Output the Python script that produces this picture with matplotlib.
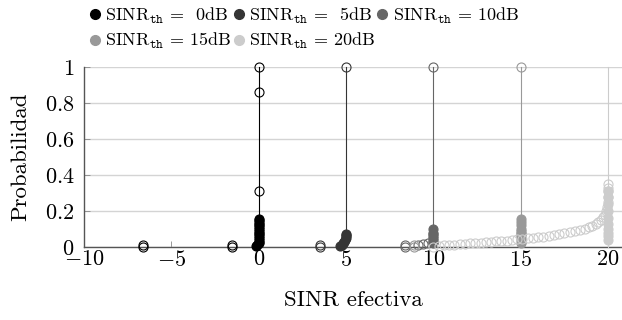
import matplotlib
matplotlib.use('Agg')
import matplotlib.pyplot as plt
from matplotlib.lines import Line2D

plt.rcParams['font.family'] = 'serif'
plt.rcParams['font.serif'] = ['cmr10', 'DejaVu Serif']
plt.rcParams['mathtext.fontset'] = 'cm'
plt.rcParams['axes.formatter.use_mathtext'] = True

# umbrales de SINR (dB) y tono de gris de cada serie
umbrales = [0, 5, 10, 15, 20]
colores = ['#000000', '#353535', '#666666', '#999999', '#cccccc']

# puntos rellenos (pila en torno al umbral)
llenos_x = [
    [-0.15, -0.1, 0, 0, 0, 0, 0, 0, 0, 0, 0, 0, 0, 0, 0, 0, 0],
    [4.65, 4.75, 4.85, 4.9, 4.95, 5.0, 5.0, 5.0, 5.0],
    [10, 10, 10, 10, 10, 10, 10, 10],
    [15, 15, 15, 15, 15, 15, 15, 15, 15, 15, 15, 15],
    [20, 20, 20, 20, 20, 20, 20, 20, 20, 20],
]
llenos_y = [
    [0.005, 0.012, 0.02, 0.03, 0.04, 0.05, 0.06, 0.07, 0.08, 0.09, 0.10, 0.11, 0.12, 0.13, 0.14, 0.15, 0.155],
    [0.005, 0.012, 0.02, 0.03, 0.04, 0.05, 0.06, 0.065, 0.07],
    [0.02, 0.03, 0.04, 0.05, 0.06, 0.07, 0.08, 0.10],
    [0.02, 0.03, 0.04, 0.05, 0.06, 0.07, 0.08, 0.09, 0.10, 0.12, 0.14, 0.155],
    [0.04, 0.06, 0.08, 0.10, 0.13, 0.16, 0.20, 0.24, 0.28, 0.31],
]

# puntos vacíos
vacios_x = [
    [-6.6, -6.6, -1.5, -1.5, 0, 0, 0],
    [3.5, 3.5, 5],
    [8.4, 8.4, 9.1, 9.4, 9.7, 10],
    [8.9, 8.9, 15],
    [10.0, 10.3, 10.6, 10.9, 11.2, 11.5, 11.8, 12.1, 12.4, 12.7, 13.0, 13.3,
     13.6, 13.9, 14.2, 14.5, 14.8, 15.1, 15.4, 15.7, 16.0, 16.3, 16.6, 16.9,
     17.2, 17.5, 17.8, 18.1, 18.4, 18.7, 18.9, 19.1, 19.3, 19.45, 19.6, 19.7,
     19.8, 19.87, 19.93, 19.97, 20.0, 20.0, 20.0, 20.0],
]
vacios_y = [
    [0.002, 0.012, 0.002, 0.012, 0.31, 0.86, 1.0],
    [0.002, 0.012, 1.0],
    [0.002, 0.012, 0.01, 0.015, 0.02, 1.0],
    [0.002, 0.012, 1.0],
    [0.003, 0.007, 0.01, 0.012, 0.014, 0.016, 0.018, 0.02, 0.022, 0.024, 0.026, 0.028,
     0.031, 0.033, 0.036, 0.039, 0.042, 0.045, 0.048, 0.051, 0.055, 0.058, 0.062, 0.066,
     0.071, 0.076, 0.082, 0.088, 0.095, 0.103, 0.11, 0.118, 0.128, 0.138, 0.15, 0.165,
     0.18, 0.2, 0.22, 0.25, 0.28, 0.31, 0.33, 0.35],
]

fig = plt.figure(figsize=(6.22, 3.2), dpi=100)
ax = fig.add_axes([0.135, 0.228, 0.865, 0.5625])

for i, u in enumerate(umbrales):
    c = colores[i]
    ax.plot([u, u], [0, 1], color=c, lw=0.8, zorder=3 + i, clip_on=False)
    ax.plot(llenos_x[i], llenos_y[i], 'o', color=c, ms=6.5, mec=c, mew=0.8,
            zorder=3 + i, clip_on=False)
    ax.plot(vacios_x[i], vacios_y[i], 'o', mfc='none', mec=c, ms=6.5, mew=0.8,
            zorder=3 + i, clip_on=False)

ax.set_xlim(-10, 20.8)
ax.set_ylim(0, 1)
ax.set_xticks([-10, -5, 0, 5, 10, 15, 20])
ax.set_xticklabels([r'$-10$', r'$-5$', r'$0$', r'$5$', r'$10$', r'$15$', r'$20$'])
ax.set_yticks([0, 0.2, 0.4, 0.6, 0.8, 1])
ax.set_yticklabels([r'$0$', r'$0.2$', r'$0.4$', r'$0.6$', r'$0.8$', r'$1$'])
ax.tick_params(axis='both', direction='in', length=4, width=0.6, color='#888888',
               labelsize=16)
ax.tick_params(axis='y', pad=7)
ax.tick_params(axis='x', pad=2)
ax.grid(axis='y', color='#d4d4d4', lw=1.0)
ax.set_axisbelow(True)
for s in ['top', 'right']:
    ax.spines[s].set_visible(False)
for s in ['left', 'bottom']:
    ax.spines[s].set_color('#555555')
    ax.spines[s].set_linewidth(1.0)

ax.set_xlabel('SINR efectiva', fontsize=16.5, labelpad=15)
ax.set_ylabel('Probabilidad', fontsize=16.5, labelpad=10)

# "=" fuera del modo matemático para que el espaciado sea fijo
etiquetas = [
    r'$\mathrm{SINR}_{\mathtt{th}}$ =  0dB',
    r'$\mathrm{SINR}_{\mathtt{th}}$ =  5dB',
    r'$\mathrm{SINR}_{\mathtt{th}}$ = 10dB',
    r'$\mathrm{SINR}_{\mathtt{th}}$ = 15dB',
    r'$\mathrm{SINR}_{\mathtt{th}}$ = 20dB',
]
manejadores = [Line2D([], [], ls='none', marker='o', color=c, ms=7) for c in colores]
# la leyenda se rellena por columnas: reordenar para que quede por filas
orden = [0, 3, 1, 4, 2]
fig.legend([manejadores[k] for k in orden], [etiquetas[k] for k in orden],
           loc='upper left', bbox_to_anchor=(0.133, 1.005),
           ncol=3, frameon=False, fontsize=13, handlelength=0.55,
           handletextpad=0.3, columnspacing=0.1, labelspacing=0.3,
           borderaxespad=0.0)

fig.savefig('out.png', dpi=100)
